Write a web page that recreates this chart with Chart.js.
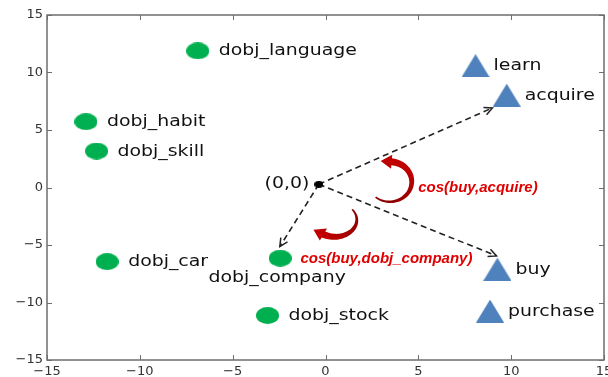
<!DOCTYPE html>
<html>
<head>
<meta charset="utf-8">
<script src="https://cdn.jsdelivr.net/npm/chart.js@4.4.1/dist/chart.umd.min.js"></script>
<style>
    body { margin: 0; background: #fff; }
    canvas { display: block; }
</style>
</head>
<body>
<canvas id="embeddingChart" width="608" height="377"></canvas>
<script>
// Dependency contexts (green) and verbs (blue) in the 2D projection
const contextWords = ['dobj_language', 'dobj_habit', 'dobj_skill', 'dobj_car', 'dobj_company', 'dobj_stock'];
const contextX = [-6.88, -12.9, -12.33, -11.76, -2.44, -3.12];
const contextY = [11.88, 5.72, 3.17, -6.45, -6.15, -11.13];

const verbWords = ['learn', 'acquire', 'buy', 'purchase'];
const verbX = [8.08, 9.76, 9.26, 8.86];
const verbY = [10.6, 8.03, -7.1, -10.74];

const originX = [-0.36];
const originY = [0.28];

// Dashed vectors from the origin (end just short of each marker)
const arrowTargets = ['acquire', 'buy', 'dobj_company'];
const arrowEndX = [8.99, 9.21, -2.46];
const arrowEndY = [6.92, -5.95, -5.14];

const axisTicks = [-15, -10, -5, 0, 5, 10, 15];

// Angle annotations
const cosLabels = ['cos(buy,acquire)', 'cos(buy,dobj_company)'];
const cosLabelX = [4.99, -1.35];
const cosLabelY = [-0.4, -6.55];
const cosArcX = [3.46, 0.5];
const cosArcY = [0.5, -2.81];

const GREEN = '#00b050';
const BLUE = '#4f81bd';
const LABEL_FONT = '16px "DejaVu Sans"';
const STRETCH = 1.18;

// marker images (the source picture is stretched sideways, so ellipses)
function makeMarker(w, h, draw) {
    const c = document.createElement('canvas');
    c.width = w;
    c.height = h;
    draw(c.getContext('2d'), w, h);
    return c;
}
const ellipseMarker = makeMarker(23, 17, (g, w, h) => {
    g.fillStyle = GREEN;
    g.beginPath();
    g.ellipse(w / 2, h / 2, w / 2, h / 2, 0, 0, Math.PI * 2);
    g.fill();
});
const triangleMarker = makeMarker(28, 23, (g, w, h) => {
    g.fillStyle = BLUE;
    g.beginPath();
    g.moveTo(w / 2, 0);
    g.lineTo(w, h);
    g.lineTo(0, h);
    g.closePath();
    g.fill();
});
const originMarker = makeMarker(9, 7, (g, w, h) => {
    g.fillStyle = '#000';
    g.beginPath();
    g.ellipse(w / 2, h / 2, w / 2, h / 2, 0, 0, Math.PI * 2);
    g.fill();
});

function drawText(ctx, text, x, y, align, font, color, stretch) {
    ctx.save();
    ctx.translate(x, y);
    ctx.scale(stretch, 1);
    ctx.font = font;
    ctx.fillStyle = color;
    ctx.textAlign = align;
    ctx.textBaseline = 'alphabetic';
    ctx.fillText(text, 0, 0);
    ctx.restore();
}

function drawCurvedArrow(ctx, cx, cy, rx, ry, a0, a1) {
    const n = 40;
    const outer = [];
    const inner = [];
    for (let i = 0; i <= n; i++) {
        const t = i / n;
        const a = a0 + (a1 - a0) * t;
        const w = 1.5 + 5.5 * t;
        const px = cx + rx * Math.cos(a);
        const py = cy + ry * Math.sin(a);
        outer.push([px + Math.cos(a) * w / 2, py + Math.sin(a) * w / 2]);
        inner.push([px - Math.cos(a) * w / 2, py - Math.sin(a) * w / 2]);
    }
    const dir = Math.sign(a1 - a0);
    let tx = -rx * Math.sin(a1) * dir;
    let ty = ry * Math.cos(a1) * dir;
    const len = Math.hypot(tx, ty);
    tx /= len;
    ty /= len;
    const ex = cx + rx * Math.cos(a1);
    const ey = cy + ry * Math.sin(a1);
    const nx = Math.cos(a1), ny = Math.sin(a1);
    const headW = 7, headL = 11;

    const grad = ctx.createLinearGradient(outer[0][0], outer[0][1], ex, ey);
    grad.addColorStop(0, '#8a0000');
    grad.addColorStop(1, '#c00000');
    ctx.save();
    ctx.fillStyle = grad;
    ctx.beginPath();
    outer.forEach((p, i) => i === 0 ? ctx.moveTo(p[0], p[1]) : ctx.lineTo(p[0], p[1]));
    ctx.lineTo(ex + nx * headW, ey + ny * headW);
    ctx.lineTo(ex + tx * headL, ey + ty * headL);
    ctx.lineTo(ex - nx * headW, ey - ny * headW);
    for (let i = inner.length - 1; i >= 0; i--) ctx.lineTo(inner[i][0], inner[i][1]);
    ctx.closePath();
    ctx.fill();
    ctx.restore();
}

const decorPlugin = {
    id: 'decor',
    beforeDatasetsDraw(chart) {
        const { ctx, chartArea: a, scales } = chart;
        ctx.save();
        ctx.strokeStyle = '#6e6e6e';
        ctx.lineWidth = 1.5;
        ctx.strokeRect(a.left, a.top, a.right - a.left, a.bottom - a.top);
        // inward ticks on all four sides
        ctx.lineWidth = 1;
        ctx.beginPath();
        axisTicks.forEach(v => {
            const x = Math.round(scales.x.getPixelForValue(v)) + 0.5;
            ctx.moveTo(x, a.bottom); ctx.lineTo(x, a.bottom - 5);
            ctx.moveTo(x, a.top); ctx.lineTo(x, a.top + 5);
            const y = Math.round(scales.y.getPixelForValue(v)) + 0.5;
            ctx.moveTo(a.left, y); ctx.lineTo(a.left + 5, y);
            ctx.moveTo(a.right, y); ctx.lineTo(a.right - 5, y);
        });
        ctx.stroke();
        ctx.restore();
    },
    afterDatasetsDraw(chart) {
        const { ctx, scales } = chart;
        const px = v => scales.x.getPixelForValue(v);
        const py = v => scales.y.getPixelForValue(v);

        // open arrow heads on the dashed vectors
        ctx.save();
        ctx.strokeStyle = '#222';
        ctx.lineWidth = 1.5;
        arrowEndX.forEach((ex, i) => {
            const x0 = px(originX[0]), y0 = py(originY[0]);
            const x1 = px(ex), y1 = py(arrowEndY[i]);
            const ang = Math.atan2(y1 - y0, x1 - x0);
            const L = 9, spread = 0.45;
            ctx.beginPath();
            ctx.moveTo(x1 - L * Math.cos(ang - spread), y1 - L * Math.sin(ang - spread));
            ctx.lineTo(x1, y1);
            ctx.lineTo(x1 - L * Math.cos(ang + spread), y1 - L * Math.sin(ang + spread));
            ctx.stroke();
        });
        ctx.restore();

        // point labels
        contextWords.forEach((w, i) => {
            const x = px(contextX[i]), y = py(contextY[i]);
            if (w === 'dobj_company') {
                drawText(ctx, w, x - 3, y + 23.5, 'center', LABEL_FONT, '#111', STRETCH);
            } else {
                drawText(ctx, w, x + 21, y + 4.5, 'left', LABEL_FONT, '#111', STRETCH);
            }
        });
        verbWords.forEach((w, i) => {
            drawText(ctx, w, px(verbX[i]) + 18, py(verbY[i]) + 4.5, 'left', LABEL_FONT, '#111', STRETCH);
        });
        drawText(ctx, '(0,0)', px(originX[0]) - 9.5, py(originY[0]) + 4, 'right', LABEL_FONT, '#111', STRETCH);

        // curved angle arrows and their labels
        drawCurvedArrow(ctx, px(cosArcX[0]), py(cosArcY[0]), 22, 20, 130 * Math.PI / 180, -85 * Math.PI / 180);
        drawCurvedArrow(ctx, px(cosArcX[1]), py(cosArcY[1]), 22, 17, -38 * Math.PI / 180, 121 * Math.PI / 180);
        cosLabels.forEach((t, i) => {
            drawText(ctx, t, px(cosLabelX[i]), py(cosLabelY[i]), 'left',
                'italic bold 15px "Liberation Sans"', '#e00000', 1);
        });
    }
};

const arrowDatasets = arrowTargets.map((name, i) => ({
    label: 'to ' + name,
    data: [{ x: originX[0], y: originY[0] }, { x: arrowEndX[i], y: arrowEndY[i] }],
    showLine: true,
    borderColor: '#222',
    borderWidth: 1.6,
    borderDash: [6, 4],
    pointRadius: 0,
    order: 10
}));

const tickFormat = v => v < 0 ? '\u2212' + Math.abs(v) : String(v);

new Chart(document.getElementById('embeddingChart'), {
    type: 'scatter',
    data: {
        datasets: [
            {
                label: 'contexts',
                data: contextX.map((x, i) => ({ x: x, y: contextY[i] })),
                pointStyle: ellipseMarker,
                pointRadius: 11,
                order: 1
            },
            {
                label: 'verbs',
                data: verbX.map((x, i) => ({ x: x, y: verbY[i] })),
                pointStyle: triangleMarker,
                pointRadius: 12,
                order: 1
            },
            {
                label: 'origin',
                data: [{ x: originX[0], y: originY[0] }],
                pointStyle: originMarker,
                pointRadius: 4,
                order: 0
            },
            ...arrowDatasets
        ]
    },
    options: {
        responsive: false,
        animation: false,
        layout: { autoPadding: false, padding: { top: 15, right: 4, bottom: 0, left: 0 } },
        plugins: { legend: { display: false }, tooltip: { enabled: false } },
        scales: {
            x: {
                type: 'linear',
                min: -15,
                max: 15,
                afterBuildTicks: s => { s.ticks = axisTicks.map(v => ({ value: v })); },
                grid: { display: false, drawTicks: false },
                border: { display: false },
                ticks: {
                    padding: 4,
                    maxRotation: 0,
                    color: '#333',
                    font: { family: 'DejaVu Sans', size: 13 },
                    callback: tickFormat
                },
                afterFit: s => { s.height = 17; s.paddingLeft = 0; s.paddingRight = 0; }
            },
            y: {
                type: 'linear',
                min: -15,
                max: 15,
                afterBuildTicks: s => { s.ticks = axisTicks.map(v => ({ value: v })); },
                grid: { display: false, drawTicks: false },
                border: { display: false },
                ticks: {
                    padding: 4,
                    color: '#333',
                    font: { family: 'DejaVu Sans', size: 13 },
                    callback: tickFormat
                },
                afterFit: s => { s.width = 47; s.paddingTop = 0; s.paddingBottom = 0; }
            }
        }
    },
    plugins: [decorPlugin]
});
</script>
</body>
</html>
